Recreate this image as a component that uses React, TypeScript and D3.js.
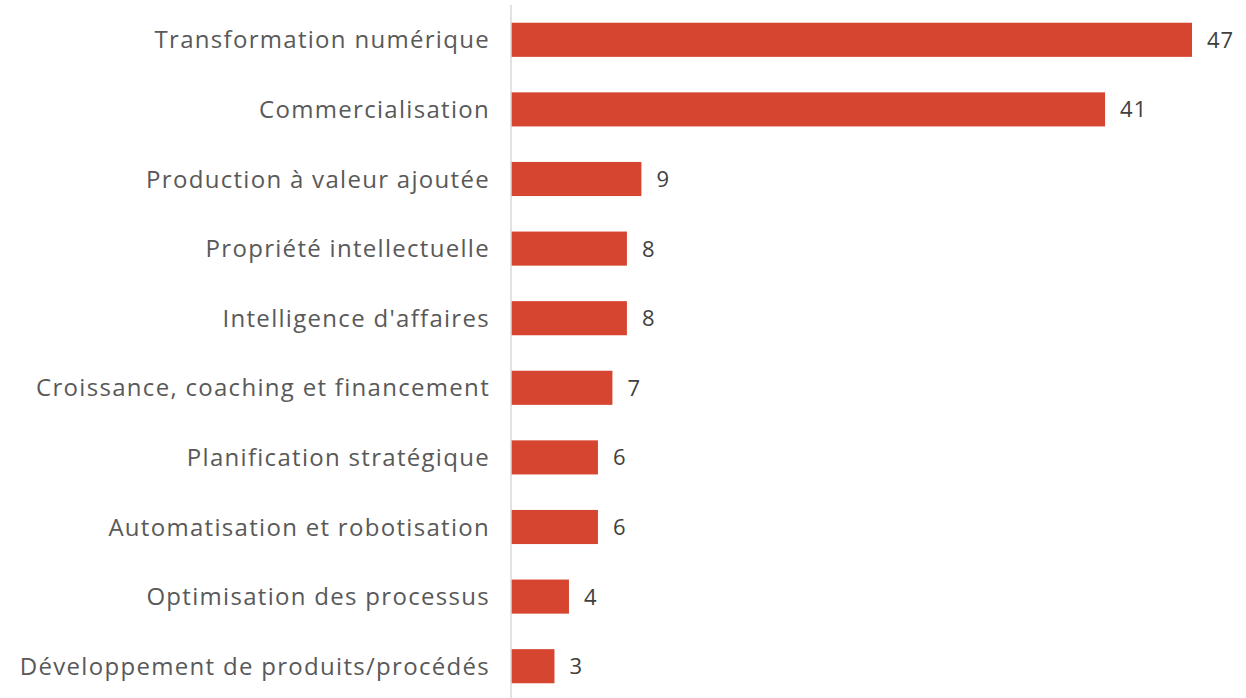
import React from "react";
import * as d3 from "d3";

const categories = [
  "Transformation numérique",
  "Commercialisation",
  "Production à valeur ajoutée",
  "Propriété intellectuelle",
  "Intelligence d'affaires",
  "Croissance, coaching et financement",
  "Planification stratégique",
  "Automatisation et robotisation",
  "Optimisation des processus",
  "Développement de produits/procédés",
];
const values = [47, 41, 9, 8, 8, 7, 6, 6, 4, 3];

const W = 1246;
const H = 698;

export default function App() {
  const x = d3.scaleLinear().domain([0, 47]).range([511, 1192]);
  const y = d3
    .scaleBand<string>()
    .domain(categories)
    .range([5, 701])
    .paddingInner(0.51)
    .paddingOuter(0.255);
  const font = "'Open Sans', Lato, sans-serif";
  return (
    <svg
      width={W}
      height={H}
      style={{ position: "absolute", left: 0, top: 0 }}
      fontFamily={font}
    >
      <rect width={W} height={H} fill="#ffffff" />
      {categories.map((c, i) => {
        const yc = (y(c) ?? 0) + y.bandwidth() / 2;
        return (
          <g key={c}>
            <rect
              x={x(0)}
              y={y(c)}
              width={x(values[i]) - x(0)}
              height={y.bandwidth()}
              fill="#d6452f"
            />
            <text
              x={490}
              y={yc}
              dy="0.36em"
              textAnchor="end"
              fontSize={24}
              letterSpacing={1.3}
              fill="#595959"
            >
              {c}
            </text>
            <text
              x={x(values[i]) + 15}
              y={yc}
              dy="0.36em"
              textAnchor="start"
              fontSize={22}
              letterSpacing={1}
              fill="#404040"
            >
              {values[i]}
            </text>
          </g>
        );
      })}
      <line x1={x(0)} x2={x(0)} y1={5} y2={H} stroke="#d9d9d9" strokeWidth={1.5} />
    </svg>
  );
}
